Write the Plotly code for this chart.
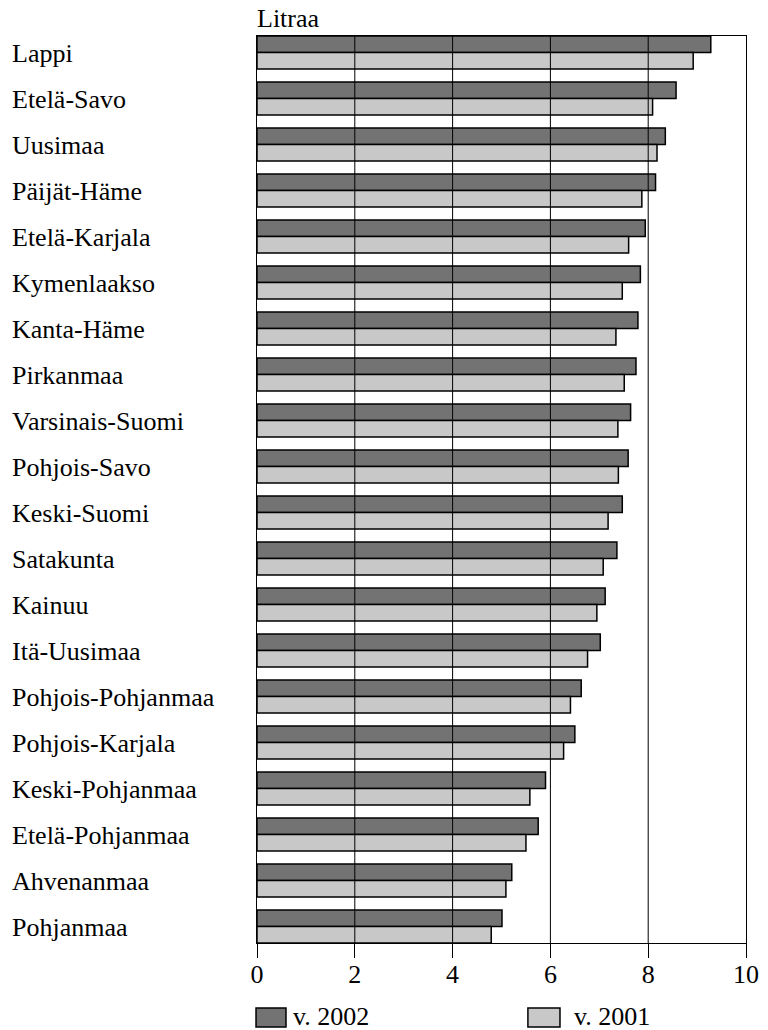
import plotly.graph_objects as go

regions = ["Lappi", "Etelä-Savo", "Uusimaa", "Päijät-Häme", "Etelä-Karjala",
           "Kymenlaakso", "Kanta-Häme", "Pirkanmaa", "Varsinais-Suomi", "Pohjois-Savo",
           "Keski-Suomi", "Satakunta", "Kainuu", "Itä-Uusimaa", "Pohjois-Pohjanmaa",
           "Pohjois-Karjala", "Keski-Pohjanmaa", "Etelä-Pohjanmaa", "Ahvenanmaa", "Pohjanmaa"]
v2002 = [9.28, 8.57, 8.35, 8.15, 7.94, 7.84, 7.79, 7.75, 7.64, 7.59,
         7.47, 7.36, 7.12, 7.02, 6.63, 6.50, 5.90, 5.75, 5.21, 5.01]
v2001 = [8.92, 8.09, 8.18, 7.87, 7.60, 7.47, 7.34, 7.51, 7.38, 7.39,
         7.18, 7.08, 6.95, 6.76, 6.41, 6.27, 5.58, 5.50, 5.09, 4.79]
series_names = ["v. 2002", "v. 2001"]
series_colors = ["#737373", "#c8c8c8"]
x_ticks = [0, 2, 4, 6, 8, 10]
axis_title = "Litraa"

FONT = "Liberation Serif, Times New Roman, Times, serif"
FS = 26

fig = go.Figure()
for name, vals, col in zip(series_names, [v2002, v2001], series_colors):
    fig.add_trace(go.Bar(
        y=regions, x=vals, orientation="h", name=name,
        marker=dict(color=col, line=dict(color="black", width=1.5)),
        showlegend=False,
    ))

n = len(regions)
gap = 0.283
half = (1 - gap) / 2

annotations = []
for i, r in enumerate(regions):
    annotations.append(dict(
        x=-0.505, xref="paper", y=i, yref="y", text=r, showarrow=False,
        xanchor="left", yanchor="middle", yshift=-1,
        font=dict(family=FONT, size=FS, color="black"),
    ))
annotations.append(dict(
    x=0.0, xref="paper", y=1.0, yref="paper", text=axis_title, showarrow=False,
    xanchor="left", yanchor="bottom", xshift=-2, yshift=1,
    font=dict(family=FONT, size=FS, color="black"),
))

shapes = []
for t in x_ticks[1:-1]:
    shapes.append(dict(type="line", xref="x", yref="paper", x0=t, x1=t, y0=0, y1=1,
                       line=dict(color="black", width=1), layer="above"))

# legend (custom)
leg_x = [[-0.002, 0.0593], [0.554, 0.6196]]
leg_tx = [0.0695, 0.6435]
for (x0, x1), tx, name, col in zip(leg_x, leg_tx, series_names, series_colors):
    shapes.append(dict(type="rect", xref="paper", yref="paper", x0=x0, x1=x1,
                       y0=-0.0926, y1=-0.0717, fillcolor=col,
                       line=dict(color="black", width=1.5)))
    annotations.append(dict(
        x=tx, xref="paper", y=-0.0805, yref="paper", text=name, showarrow=False,
        xanchor="left", yanchor="middle",
        font=dict(family=FONT, size=FS, color="black"),
    ))

fig.update_layout(
    width=768, height=1030,
    margin=dict(l=257, r=22, t=36, b=87),
    paper_bgcolor="white", plot_bgcolor="white",
    barmode="group", bargap=gap, bargroupgap=0,
    font=dict(family=FONT, size=FS, color="black"),
    annotations=annotations, shapes=shapes,
    showlegend=False,
)
fig.update_xaxes(
    range=[0, 10], tickvals=x_ticks, ticktext=[str(t) for t in x_ticks],
    showgrid=False, zeroline=False, automargin=False,
    showline=True, linecolor="black", linewidth=1, mirror=True,
    ticks="outside", ticklen=14, tickcolor="black", tickwidth=1,
    ticklabelstandoff=-6,
    tickfont=dict(family=FONT, size=FS, color="black"),
)
fig.update_yaxes(
    type="category", categoryorder="array", categoryarray=regions,
    range=[n - 1 + half, -half], automargin=False,
    showticklabels=False, showgrid=False, zeroline=False,
    showline=True, linecolor="black", linewidth=1, mirror=True, ticks="",
)

fig.write_html("out.html", config={"displayModeBar": False},
               post_script="document.body.style.margin='0';document.body.style.overflow='hidden';")
